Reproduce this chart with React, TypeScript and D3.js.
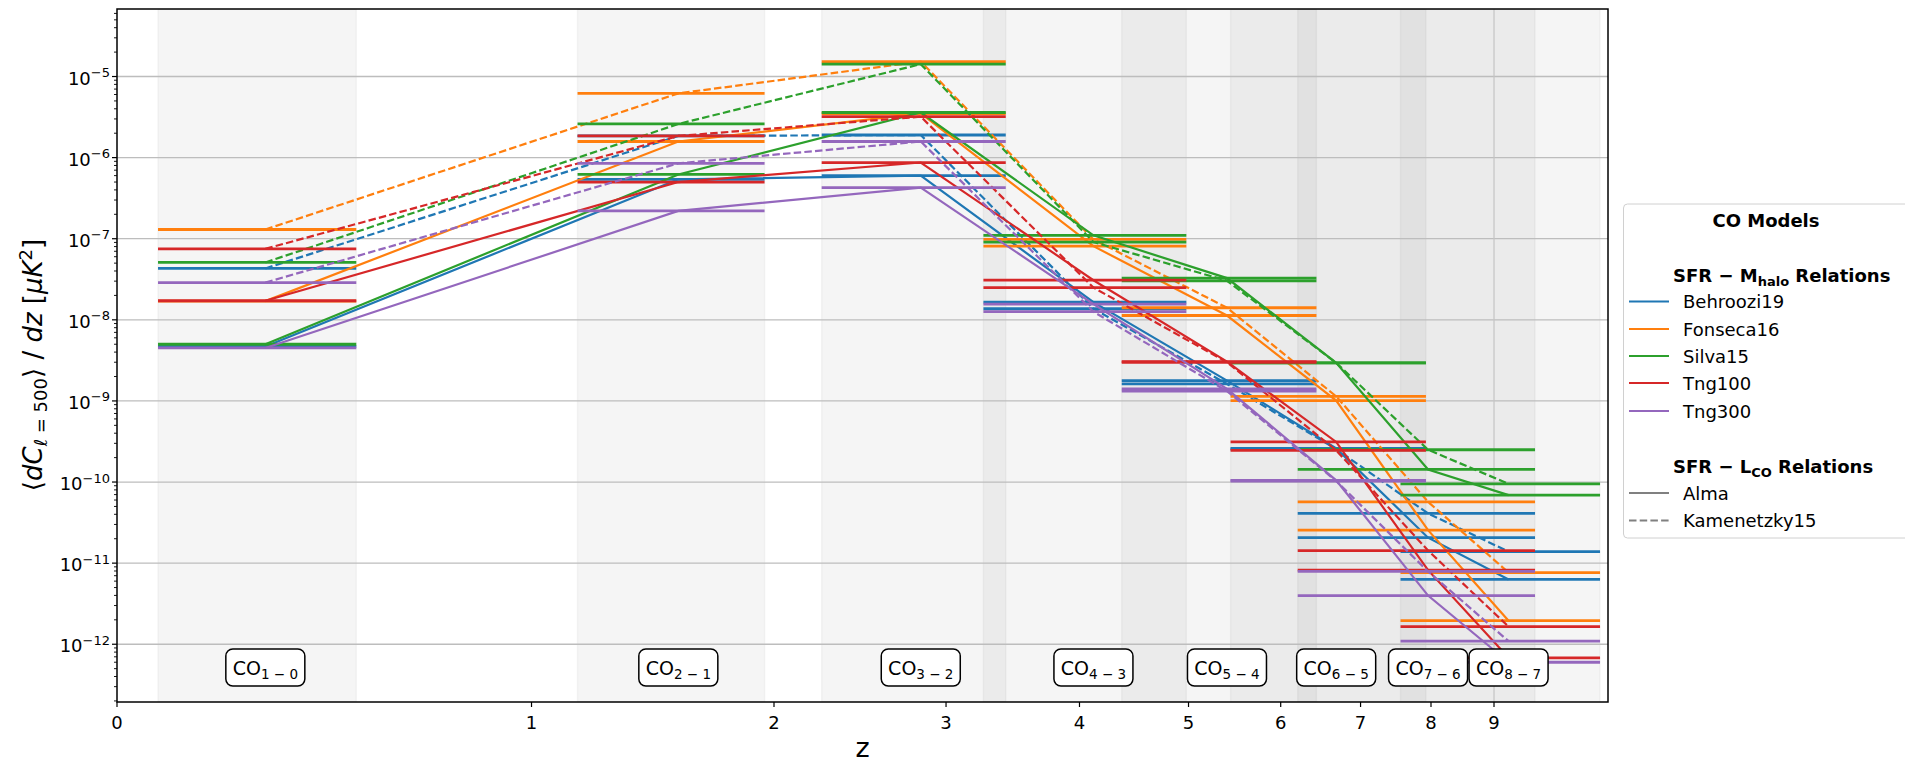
import React from 'react';
import * as d3 from 'd3';

// CO transitions and the redshift range each one covers
const transitions = ['1 − 0', '2 − 1', '3 − 2', '4 − 3', '5 − 4', '6 − 5', '7 − 6', '8 − 7'];
const zLow = [0.071, 1.16, 2.249, 3.258, 4.366, 5.437, 6.202, 7.553];
const zHigh = [0.492, 1.953, 3.42, 4.978, 6.431, 7.924, 9.71, 10.94];

const models = ['Behroozi19', 'Fonseca16', 'Silva15', 'Tng100', 'Tng300'];
const modelColors = ['#1f77b4', '#ff7f0e', '#2ca02c', '#d62728', '#9467bd'];

// <dC_l=500>/dz per transition, Alma (solid) and Kamenetzky15 (dashed)
const behroozi19Alma = [4.7e-9, 5.4e-7, 6.0e-7, 1.65e-8, 1.78e-9, 2.6e-10, 2.06e-11, 6.3e-12];
const behroozi19Kam = [4.3e-8, 1.85e-6, 1.9e-6, 1.37e-8, 1.62e-9, 2.55e-10, 4.1e-11, 1.39e-11];
const fonseca16Alma = [1.7e-8, 1.58e-6, 3.5e-6, 8.1e-8, 1.13e-8, 1.01e-9, 2.55e-11, 1.95e-12];
const fonseca16Kam = [1.3e-7, 6.2e-6, 1.53e-5, 9.8e-8, 1.41e-8, 1.14e-9, 5.7e-11, 7.65e-12];
const silva15Alma = [5.0e-9, 6.2e-7, 3.6e-6, 1.1e-7, 3.27e-8, 2.95e-9, 1.43e-10, 6.9e-11];
const silva15Kam = [5.1e-8, 2.6e-6, 1.42e-5, 9.1e-8, 3.03e-8, 2.95e-9, 2.5e-10, 9.5e-11];
const tng100Alma = [1.72e-8, 5.0e-7, 8.7e-7, 3.08e-8, 3.05e-9, 3.12e-10, 8.2e-12, 6.8e-13];
const tng100Kam = [7.5e-8, 1.85e-6, 3.2e-6, 2.5e-8, 3.0e-9, 2.46e-10, 1.43e-11, 1.65e-12];
const tng300Alma = [4.5e-9, 2.2e-7, 4.27e-7, 1.56e-8, 1.41e-9, 1.05e-10, 3.98e-12, 6.0e-13];
const tng300Kam = [2.88e-8, 8.5e-7, 1.58e-6, 1.26e-8, 1.32e-9, 1.03e-10, 7.9e-12, 1.09e-12];

const almaSeries = [behroozi19Alma, fonseca16Alma, silva15Alma, tng100Alma, tng300Alma];
const kamSeries = [behroozi19Kam, fonseca16Kam, silva15Kam, tng100Kam, tng300Kam];

const xTicks = [0, 1, 2, 3, 4, 5, 6, 7, 8, 9];
const xGrid = [9];
const yExponents = [-12, -11, -10, -9, -8, -7, -6, -5];

const FONT = 'DejaVu Sans, sans-serif';
const W = 1905;
const H = 765;
const L = 117, R = 1608, T = 9, B = 702;

export default function App() {
  const x = d3.scaleLog().domain([1, 12.1]).range([L, R]);
  const xz = (z: number) => x(1 + z);
  const y = d3.scaleLog().domain([1.94e-13, 6.8e-5]).range([B, T]);

  const zMid = zLow.map((lo, i) => (lo + zHigh[i]) / 2);
  const line = d3.line<number>()
    .x((_, i) => xz(zMid[i]))
    .y(v => y(v));

  const minorTicks = y.ticks(100).filter(v => {
    const m = Math.round(v / Math.pow(10, Math.floor(Math.log10(v) + 1e-9)));
    return m !== 1 && v >= y.domain()[0] && v <= y.domain()[1];
  });

  const drawModel = (vals: number[], color: string, dashed: boolean, key: string) => (
    <g key={key}>
      {vals.map((v, i) => (
        <line key={i} x1={xz(zLow[i])} x2={xz(zHigh[i])} y1={y(v)} y2={y(v)}
          stroke={color} strokeWidth={2.8} />
      ))}
      <path d={line(vals) || ''} fill="none" stroke={color} strokeWidth={2.2}
        strokeDasharray={dashed ? '7.5,3.2' : undefined} />
    </g>
  );

  const legendRows = [308, 335.5, 362.5, 389.5, 417.5];

  return (
    <svg width={W} height={H} style={{ position: 'absolute', left: 0, top: 0, background: '#fff' }}
      fontFamily={FONT}>
      <defs>
        <clipPath id="plotclip">
          <rect x={L} y={T} width={R - L} height={B - T} />
        </clipPath>
      </defs>

      {/* frequency-coverage bands */}
      <g clipPath="url(#plotclip)">
        {zLow.map((lo, i) => (
          <rect key={i} x={xz(lo)} y={T} width={xz(zHigh[i]) - xz(lo)} height={B - T}
            fill="#000" fillOpacity={0.04} stroke="#000" strokeOpacity={0.04} strokeWidth={1.5} />
        ))}
        {yExponents.map(e => (
          <line key={e} x1={L} x2={R} y1={y(Math.pow(10, e))} y2={y(Math.pow(10, e))}
            stroke="#bdbdbd" strokeWidth={1.3} />
        ))}
        {xGrid.map(z => (
          <line key={z} x1={xz(z)} x2={xz(z)} y1={T} y2={B} stroke="#c4c4c4" strokeWidth={1.2} />
        ))}

        {models.map((m, k) => (
          <g key={m}>
            {drawModel(almaSeries[k], modelColors[k], false, 'a')}
            {drawModel(kamSeries[k], modelColors[k], true, 'k')}
          </g>
        ))}
      </g>

      {/* transition labels */}
      {transitions.map((t, i) => {
        const cx = xz(zMid[i]);
        return (
          <g key={t}>
            <rect x={cx - 39.5} y={649} width={79} height={37} rx={7}
              fill="#fff" stroke="#000" strokeWidth={1.5} />
            <text x={cx} y={675} textAnchor="middle" fontSize={19}>
              CO<tspan fontSize={13.5} dy={4}>{t}</tspan>
            </text>
          </g>
        );
      })}

      {/* frame */}
      <rect x={L} y={T} width={R - L} height={B - T} fill="none" stroke="#000" strokeWidth={1.5} />

      {/* x axis */}
      {xTicks.map(z => (
        <g key={z}>
          <line x1={xz(z)} x2={xz(z)} y1={B} y2={B + 5} stroke="#000" strokeWidth={1.2} />
          <text x={xz(z)} y={729} textAnchor="middle" fontSize={18}>{z}</text>
        </g>
      ))}
      <text x={(L + R) / 2} y={757} textAnchor="middle" fontSize={27}>z</text>

      {/* y axis */}
      {minorTicks.map((v, i) => (
        <line key={i} x1={L - 3} x2={L} y1={y(v)} y2={y(v)} stroke="#000" strokeWidth={0.9} />
      ))}
      {yExponents.map(e => {
        const yy = y(Math.pow(10, e));
        return (
          <g key={e}>
            <line x1={L - 5} x2={L} y1={yy} y2={yy} stroke="#000" strokeWidth={1.2} />
            <text x={110} y={yy + 8} textAnchor="end" fontSize={18}>
              10<tspan fontSize={13} dy={-7.5}>{'−' + Math.abs(e)}</tspan>
            </text>
          </g>
        );
      })}
      <text transform="translate(42,365) rotate(-90)" textAnchor="middle" fontSize={26}>
        ⟨<tspan fontStyle="italic">dC</tspan>
        <tspan fontSize={18} dy={5} fontStyle="italic">ℓ</tspan>
        <tspan fontSize={18}> = 500</tspan>
        <tspan dy={-5}>⟩ / </tspan>
        <tspan fontStyle="italic">dz</tspan>
        <tspan> [</tspan>
        <tspan fontStyle="italic">μK</tspan>
        <tspan fontSize={18} dy={-10}>2</tspan>
        <tspan dy={10}>]</tspan>
      </text>

      {/* legend */}
      <rect x={1623.5} y={204} width={300} height={334} rx={4} fill="#fff" stroke="#d0d0d0" strokeWidth={1} />
      <text x={1766} y={226.5} textAnchor="middle" fontSize={18} fontWeight="bold">CO Models</text>
      <text x={1673} y={281.5} fontSize={18} fontWeight="bold">
        SFR − M<tspan fontSize={13} dy={4}>halo</tspan><tspan dy={-4}> Relations</tspan>
      </text>
      {models.map((m, k) => (
        <g key={m}>
          <line x1={1629} x2={1669} y1={legendRows[k] - 6.5} y2={legendRows[k] - 6.5}
            stroke={modelColors[k]} strokeWidth={2.2} />
          <text x={1683} y={legendRows[k]} fontSize={18}>{m}</text>
        </g>
      ))}
      <text x={1673} y={473} fontSize={18} fontWeight="bold">
        SFR − L<tspan fontSize={13} dy={4}>CO</tspan><tspan dy={-4}> Relations</tspan>
      </text>
      <line x1={1629} x2={1669} y1={493} y2={493} stroke="#808080" strokeWidth={2.2} />
      <text x={1683} y={499.5} fontSize={18}>Alma</text>
      <line x1={1629} x2={1669} y1={520.5} y2={520.5} stroke="#808080" strokeWidth={2.2} strokeDasharray="7.5,3.2" />
      <text x={1683} y={527} fontSize={18}>Kamenetzky15</text>
    </svg>
  );
}
